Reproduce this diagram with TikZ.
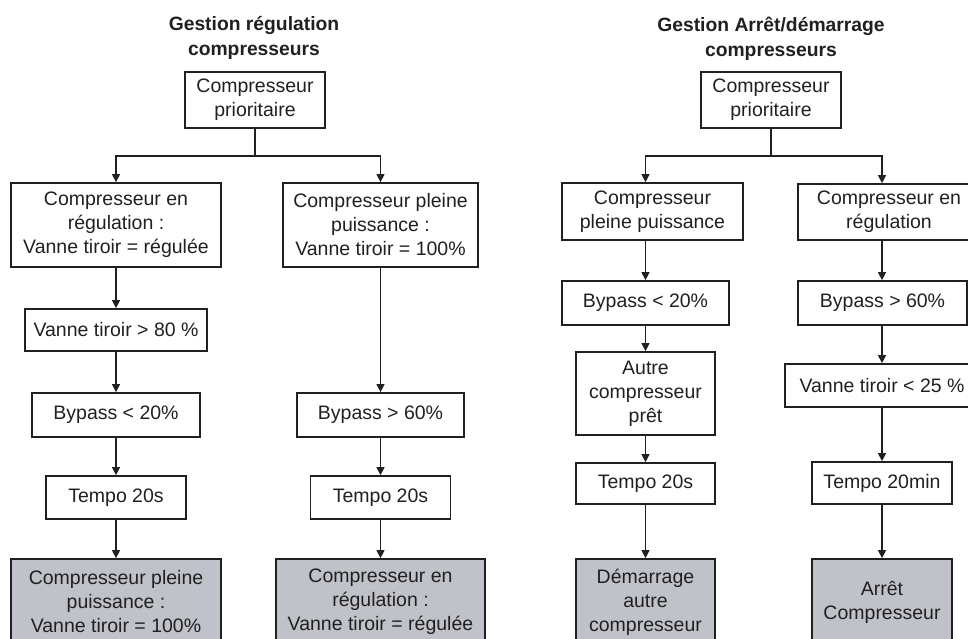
\documentclass[tikz,border=0pt]{standalone}
\usepackage{fontspec}
\setmainfont{Liberation Sans}
\usetikzlibrary{arrows.meta}
\definecolor{ink}{HTML}{231F20}
\definecolor{boxgray}{HTML}{BFC3C9}
\begin{document}
\begin{tikzpicture}[x=1pt,y=-1pt,
  every node/.style={text=ink},
  box/.style={draw=ink,line width=1.7pt,inner sep=0pt,align=center,
    font=\fontsize{19.5}{24}\selectfont},
  endbox/.style={box,fill=boxgray},
  ttl/.style={align=center,font=\fontsize{19.3}{25}\selectfont\bfseries},
  arr/.style={draw=ink,line width=1.1pt,-{Triangle[length=8pt,width=8pt]}},
  ln/.style={draw=ink,line width=1.1pt}]
\useasboundingbox (0,0) rectangle (968,639);
\clip (0,0) rectangle (968,639);

% ---------- Left diagram ----------
\node[ttl] (t1) at (254,38) {Gestion régulation\\compresseurs};
\node[box,minimum width=140pt,minimum height=56pt] (p1) at (255,100) {Compresseur\\prioritaire};
\node[box,minimum width=210pt,minimum height=84pt] (a1) at (116,225) {Compresseur en\\régulation :\\Vanne tiroir = régulée};
\node[box,minimum width=195pt,minimum height=84pt] (b1) at (380.5,225) {Compresseur pleine\\puissance :\\Vanne tiroir = 100\%};
\node[box,minimum width=182pt,minimum height=42pt] (a2) at (116,330) {Vanne tiroir > 80 \%};
\node[box,minimum width=168pt,minimum height=44pt] (a3) at (116,415) {Bypass < 20\%};
\node[box,minimum width=140pt,minimum height=43pt] (a4) at (116,497.5) {Tempo 20s};
\node[endbox,minimum width=210pt,minimum height=86pt] (a5) at (116,602) {Compresseur pleine\\puissance :\\Vanne tiroir = 100\%};
\node[box,minimum width=167pt,minimum height=44pt] (b3) at (380.5,415) {Bypass > 60\%};
\node[box,minimum width=140pt,minimum height=43pt] (b4) at (380.5,497.5) {Tempo 20s};
\node[endbox,minimum width=209pt,minimum height=86pt] (b5) at (380.5,602) {Compresseur en\\régulation :\\Vanne tiroir = régulée};

\coordinate (j1) at (255,156);
\draw[ln] (p1.south) -- (j1);
\draw[arr] (j1) -| (a1.north);
\draw[arr] (j1) -| (b1.north);
\draw[arr] (a1.south) -- (a2.north);
\draw[arr] (a2.south) -- (a3.north);
\draw[arr] (a3.south) -- (a4.north);
\draw[arr] (a4.south) -- (a5.north);
\draw[arr] (b1.south) -- (b3.north);
\draw[arr] (b3.south) -- (b4.north);
\draw[arr] (b4.south) -- (b5.north);

% ---------- Right diagram ----------
\node[ttl] (t2) at (771,39) {Gestion Arrêt/démarrage\\compresseurs};
\node[box,minimum width=140pt,minimum height=56pt] (p2) at (771,100) {Compresseur\\prioritaire};
\node[box,minimum width=181pt,minimum height=57pt] (c1) at (652.5,211.5) {Compresseur\\pleine puissance};
\node[box,minimum width=182pt,minimum height=56pt] (d1) at (889,212) {Compresseur en\\régulation};
\node[box,minimum width=167pt,minimum height=44pt] (c2) at (645.5,303) {Bypass < 20\%};
\node[box,minimum width=169pt,minimum height=44pt] (d2) at (882.5,303) {Bypass > 60\%};
\node[box,minimum width=139pt,minimum height=83pt] (c3) at (645.5,393.5) {Autre\\compresseur\\prêt};
\node[box,minimum width=194pt,minimum height=43pt] (d3) at (882,385.5) {Vanne tiroir < 25 \%};
\node[box,minimum width=139pt,minimum height=41pt] (c4) at (645.5,483.5) {Tempo 20s};
\node[box,minimum width=140pt,minimum height=42pt] (d4) at (882,483) {Tempo 20min};
\node[endbox,minimum width=139pt,minimum height=86pt] (c5) at (645.5,602) {Démarrage\\autre\\compresseur};
\node[endbox,minimum width=140pt,minimum height=86pt] (d5) at (882,602) {Arrêt\\Compresseur};

\coordinate (j2) at (771,156);
\draw[ln] (p2.south) -- (j2);
\draw[arr] (j2) -| (c1.north -| c2.north);
\draw[arr] (j2) -| (d1.north -| d3.north);
\draw[arr] (c2.north |- c1.south) -- (c2.north);
\draw[arr] (c2.south) -- (c3.north);
\draw[arr] (c3.south) -- (c4.north);
\draw[arr] (c4.south) -- (c5.north);
\draw[arr] (d3.north |- d1.south) -- (d2.north -| d3.north);
\draw[arr] (d3.north |- d2.south) -- (d3.north);
\draw[arr] (d3.south) -- (d4.north);
\draw[arr] (d4.south) -- (d5.north);
\end{tikzpicture}
\end{document}
